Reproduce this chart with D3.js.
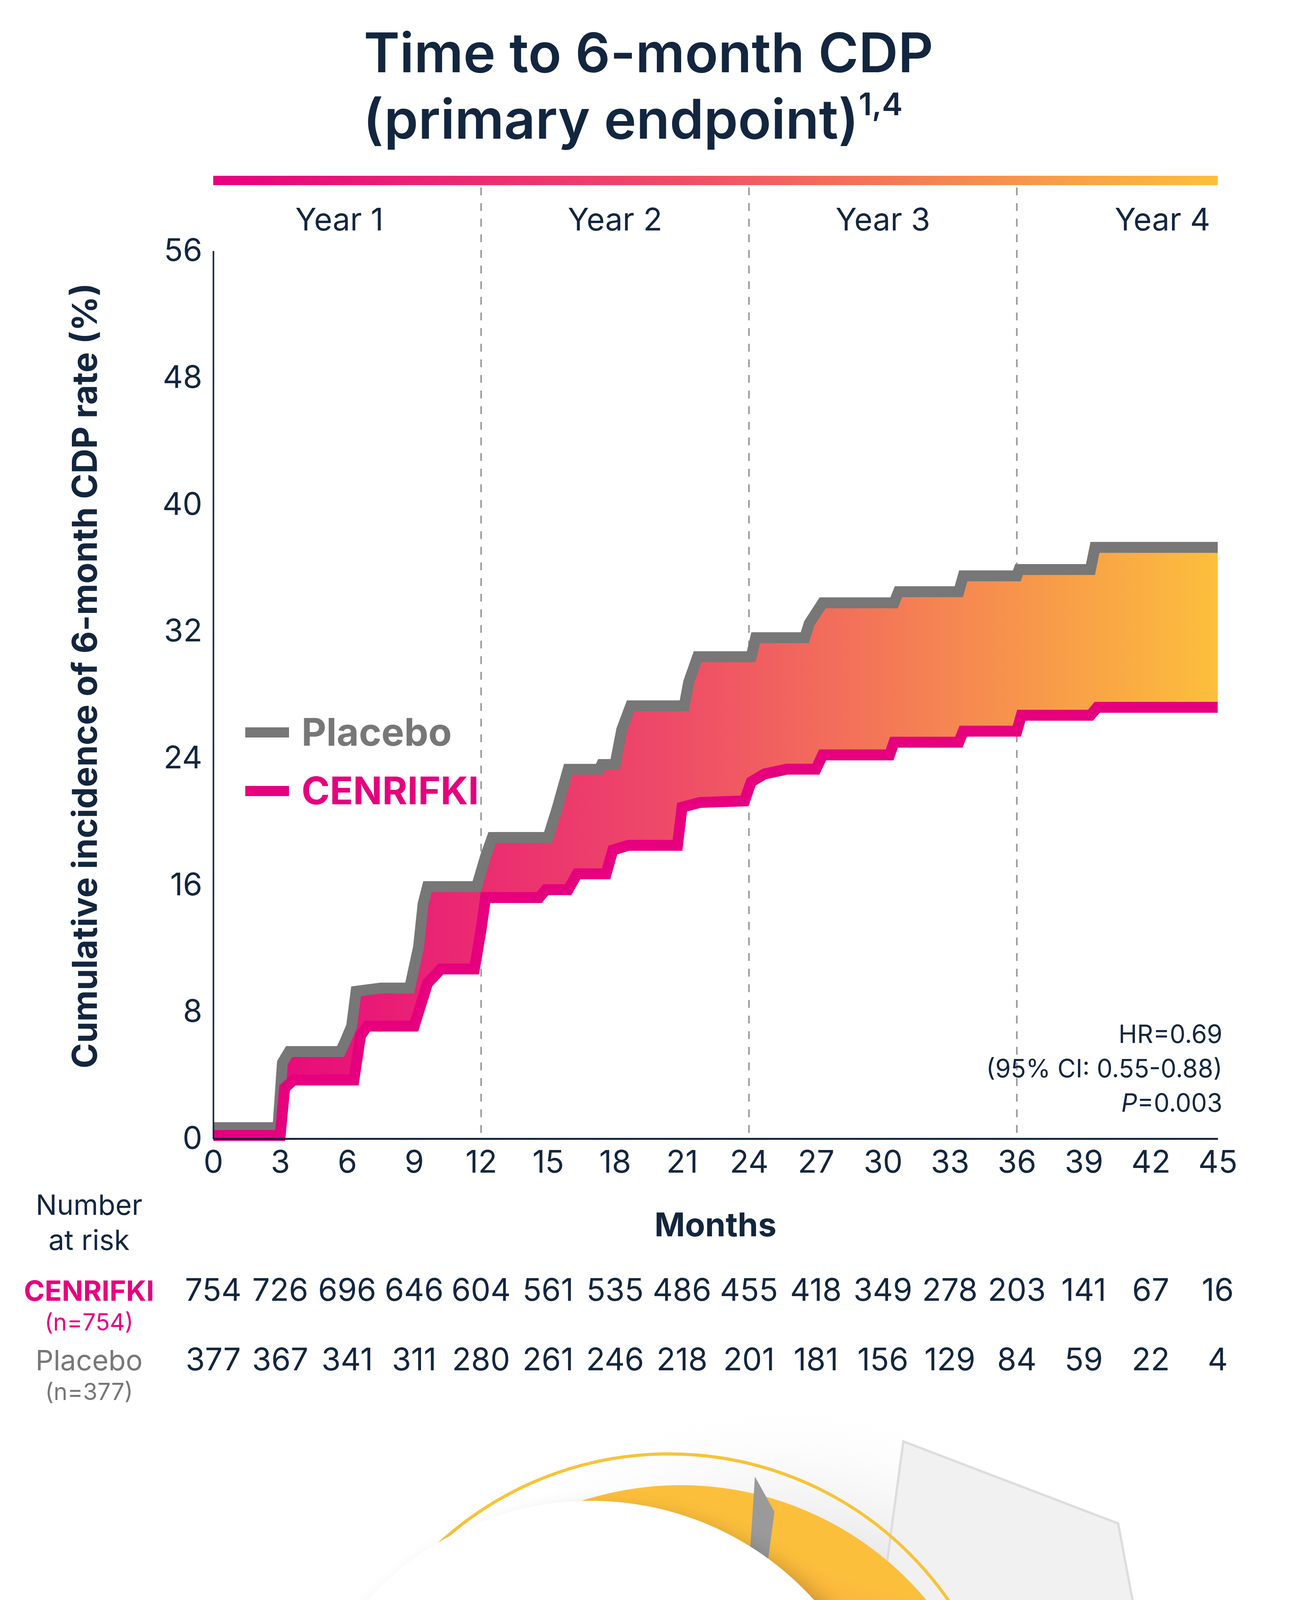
<!DOCTYPE html>
<html><head><meta charset="utf-8">
<script src="https://cdn.jsdelivr.net/npm/d3@7"></script>
<style>body{margin:0;background:#fff}svg{display:block}</style>
</head><body>
<svg id="chart" width="3321" height="5653"></svg>
<script>
const W = 3321, H = 5653;
const navy = '#13263f', pink = '#e6007e', grey = '#777777';

// step data: [month, cumulative %]
const placebo = [[0,0.4],[2.9,0.4],[3.1,4.5],[3.4,5.2],[5.7,5.2],[5.9,5.8],[6.2,6.8],[6.4,9.0],[7.5,9.2],[8.8,9.2],[9.2,11.8],[9.4,14.5],[9.6,15.6],[11.8,15.6],[12.2,17.5],[12.5,18.7],[15.0,18.7],[15.4,20.5],[15.9,23.0],[17.3,23.0],[17.4,23.3],[18.0,23.3],[18.3,25.5],[18.7,27.0],[21.1,27.0],[21.3,28.5],[21.7,30.1],[24.1,30.1],[24.3,31.3],[26.5,31.3],[26.7,32.2],[27.3,33.5],[30.5,33.5],[30.7,34.2],[33.4,34.2],[33.6,35.2],[36.0,35.2],[36.1,35.6],[39.3,35.6],[39.5,37.0],[45,37.0]];
const cenrifki = [[0,0.5],[3.0,0.5],[3.2,3.5],[3.6,4.0],[6.3,4.0],[6.6,6.8],[6.9,7.4],[9.0,7.4],[9.6,10.1],[10.2,11.0],[11.7,11.0],[12.0,13.5],[12.2,15.5],[14.6,15.5],[14.9,16.0],[15.9,16.0],[16.3,17.0],[17.6,17.0],[17.9,18.5],[18.6,18.8],[20.8,18.8],[21.0,21.2],[21.8,21.5],[23.8,21.6],[24.1,22.8],[24.7,23.3],[25.7,23.6],[27.0,23.6],[27.3,24.5],[30.3,24.5],[30.5,25.3],[33.4,25.3],[33.6,26.0],[36.0,26.0],[36.2,27.0],[39.3,27.0],[39.6,27.5],[45,27.5]];

const xTicks = d3.range(0, 46, 3);
const yTicks = d3.range(0, 57, 8);
const yearLabels = ['Year 1', 'Year 2', 'Year 3', 'Year 4'];
const riskCenrifki = [754,726,696,646,604,561,535,486,455,418,349,278,203,141,67,16];
const riskPlacebo = [377,367,341,311,280,261,246,218,201,181,156,129,84,59,22,4];

const svg = d3.select('#chart');
const defs = svg.append('defs');
const font = 'Inter, "Noto Sans", sans-serif';

const grad = defs.append('linearGradient').attr('id', 'g').attr('x1', 0).attr('x2', 1).attr('y1', 0).attr('y2', 0);
grad.append('stop').attr('offset', '0%').attr('stop-color', pink);
grad.append('stop').attr('offset', '45%').attr('stop-color', '#ee4a68');
grad.append('stop').attr('offset', '100%').attr('stop-color', '#fcbf3c');

const x = d3.scaleLinear().domain([0, 45]).range([546, 3118]);
const y = d3.scaleLinear().domain([0, 56]).range([2915, 642]);

// title
const title = svg.append('text').attr('text-anchor', 'middle').attr('font-family', font)
  .attr('font-weight', 600).attr('fill', navy).attr('font-size', 140);
title.append('tspan').attr('x', W / 2).attr('y', 185).text('Time to 6-month CDP');
title.append('tspan').attr('x', W / 2 - 40).attr('y', 355).text('(primary endpoint)');
title.append('tspan').attr('font-size', 80).attr('dy', -60).text('1,4');

// gradient bar
svg.append('rect').attr('x', x(0)).attr('y', 450).attr('width', x(45) - x(0)).attr('height', 24)
  .attr('fill', 'url(#g)');

// year separators & labels
[12, 24, 36].forEach(m => svg.append('line').attr('x1', x(m)).attr('x2', x(m))
  .attr('y1', 480).attr('y2', y(0)).attr('stroke', '#999').attr('stroke-width', 4)
  .attr('stroke-dasharray', '20,20'));
yearLabels.forEach((t, i) => svg.append('text').attr('x', x(i * 12 + 6) - (i == 0 ? 20 : 0) + (i == 3 ? 30 : 0))
  .attr('y', 590).attr('text-anchor', 'middle').attr('font-family', font)
  .attr('font-size', 80).attr('fill', navy).text(t));

// area between the curves
const merged = d3.sort(Array.from(new Set(placebo.map(d => d[0]).concat(cenrifki.map(d => d[0])))));
const interp = (arr, m) => { let v = arr[0][1]; for (let i = 1; i < arr.length; i++) { const a = arr[i - 1], b = arr[i]; if (m >= b[0]) v = b[1]; else if (m > a[0]) { v = a[1] + (b[1] - a[1]) * (m - a[0]) / (b[0] - a[0]); break; } else break; } return v; };
const band = merged.map(m => ({ m, hi: interp(placebo, m), lo: interp(cenrifki, m) }));
svg.append('path').datum(band)
  .attr('d', d3.area().x(d => x(d.m)).y0(d => y(d.lo)).y1(d => y(d.hi)))
  .attr('fill', 'url(#g)');

const line = d3.line().x(d => x(d[0])).y(d => y(d[1]));
svg.append('path').datum(placebo).attr('d', line).attr('fill', 'none').attr('stroke', grey)
  .attr('stroke-width', 28).attr('transform', 'translate(0,-12)');
svg.append('path').datum(cenrifki).attr('d', line).attr('fill', 'none').attr('stroke', pink)
  .attr('stroke-width', 28).attr('transform', 'translate(0,12)');

// axes
const xAxis = svg.append('g').attr('transform', `translate(0,${y(0)})`)
  .call(d3.axisBottom(x).tickValues(xTicks).tickSize(0).tickPadding(30));
xAxis.select('.domain').attr('stroke', navy).attr('stroke-width', 5);
xAxis.selectAll('text').attr('font-family', font).attr('font-size', 80).attr('fill', navy);
const yAxis = svg.append('g').attr('transform', `translate(${x(0)},0)`)
  .call(d3.axisLeft(y).tickValues(yTicks).tickSize(0).tickPadding(28));
yAxis.select('.domain').attr('stroke', navy).attr('stroke-width', 4);
yAxis.selectAll('text').attr('font-family', font).attr('font-size', 80).attr('fill', navy);

svg.append('text').attr('transform', `translate(248,1730) rotate(-90)`).attr('text-anchor', 'middle')
  .attr('font-family', font).attr('font-weight', 700).attr('font-size', 88).attr('fill', navy)
  .text('Cumulative incidence of 6-month CDP rate (%)');

// legend
[['Placebo', grey, 1875], ['CENRIFKI', pink, 2025]].forEach(([t, c, yy]) => {
  svg.append('line').attr('x1', 628).attr('x2', 740).attr('y1', yy).attr('y2', yy)
    .attr('stroke', c).attr('stroke-width', 26);
  svg.append('text').attr('x', 772).attr('y', yy + 34).attr('font-family', font)
    .attr('font-weight', 700).attr('font-size', 98).attr('fill', c).text(t);
});

// HR
const hr = svg.append('text').attr('text-anchor', 'end').attr('font-family', font)
  .attr('font-size', 64).attr('fill', navy);
hr.append('tspan').attr('x', 3130).attr('y', 2670).text('HR=0.69');
hr.append('tspan').attr('x', 3130).attr('y', 2758).text('(95% CI: 0.55-0.88)');
const p = hr.append('tspan').attr('x', 3130).attr('y', 2846);
p.append('tspan').attr('font-style', 'italic').text('P');
p.append('tspan').text('=0.003');

// months / number at risk
svg.append('text').attr('x', x(22.5)).attr('y', 3165).attr('text-anchor', 'middle').attr('font-family', font)
  .attr('font-weight', 700).attr('font-size', 84).attr('fill', navy).text('Months');
const nar = svg.append('text').attr('text-anchor', 'middle').attr('font-family', font)
  .attr('font-size', 72).attr('fill', navy);
nar.append('tspan').attr('x', 228).attr('y', 3110).text('Number');
nar.append('tspan').attr('x', 228).attr('y', 3200).text('at risk');

const rows = [[riskCenrifki, 3330, 'CENRIFKI', '(n=754)', pink, 700], [riskPlacebo, 3508, 'Placebo', '(n=377)', grey, 400]];
rows.forEach(([vals, yy, name, n, c, fw]) => {
  svg.selectAll(null).data(vals).join('text').attr('x', (d, i) => x(xTicks[i])).attr('y', yy)
    .attr('text-anchor', 'middle').attr('font-family', font).attr('font-size', 80).attr('fill', navy)
    .text(d => d);
  svg.append('text').attr('x', 228).attr('y', yy).attr('text-anchor', 'middle').attr('font-family', font)
    .attr('font-weight', fw).attr('font-size', 72).attr('fill', c).text(name);
  svg.append('text').attr('x', 228).attr('y', yy + 76).attr('text-anchor', 'middle').attr('font-family', font)
    .attr('font-size', 60).attr('fill', c).text(n);
});

// bottom badge
const cx = 1513, cy = 4612;
const rg = defs.append('linearGradient').attr('id', 'rg').attr('x1', 0).attr('y1', 1).attr('x2', 0.3).attr('y2', 0);
rg.append('stop').attr('offset', '0%').attr('stop-color', pink);
rg.append('stop').attr('offset', '55%').attr('stop-color', '#f27052');
rg.append('stop').attr('offset', '100%').attr('stop-color', '#fcbf3c');
const sh = defs.append('radialGradient').attr('id', 'sh');
sh.append('stop').attr('offset', '60%').attr('stop-color', '#ddd');
sh.append('stop').attr('offset', '100%').attr('stop-color', '#fff').attr('stop-opacity', 0);
const blur = defs.append('filter').attr('id', 'blur').attr('x', '-20%').attr('y', '-20%').attr('width', '140%').attr('height', '140%');
blur.append('feGaussianBlur').attr('stdDeviation', 30);

svg.append('ellipse').attr('cx', cx + 500).attr('cy', cy + 150).attr('rx', 1100).attr('ry', 1200).attr('fill', 'url(#sh)');
svg.append('path').attr('d', `M${cx+800},3690 L${cx+1350},3900 L${cx+1500},4700 L${cx+1250},5550 L${cx+450},5620 L${cx+650},4800 Z`)
  .attr('fill', '#f1f1f1').attr('stroke', '#ddd').attr('stroke-width', 6);
svg.append('circle').attr('cx', cx + 200).attr('cy', cy - 20).attr('r', 870).attr('fill', 'none')
  .attr('stroke', '#f8c33a').attr('stroke-width', 8);
svg.append('circle').attr('cx', cx + 230).attr('cy', cy + 10).attr('r', 820).attr('fill', 'url(#rg)');
svg.append('path').attr('d', `M${cx+420},3780 L${cx+470},3870 L${cx+360},4700 Z`).attr('fill', '#9a9a9a');
svg.append('path').attr('d', `M${cx+860},4300 L${cx+1100},4150 L${cx+1250},4450 L${cx+1000},4520 Z`).attr('fill', '#fafafa').attr('stroke', '#ccc').attr('stroke-width', 4);
svg.append('circle').attr('cx', cx + 30).attr('cy', cy + 40).attr('r', 780).attr('fill', '#000').attr('opacity', 0.25).attr('filter', 'url(#blur)');
svg.append('circle').attr('cx', cx).attr('cy', cy).attr('r', 770).attr('fill', '#fff');

const big = svg.append('text').attr('x', cx + 30).attr('y', 4560).attr('text-anchor', 'middle')
  .attr('font-family', font).attr('font-weight', 800).attr('fill', pink);
big.append('tspan').attr('font-size', 580).text('31');
big.append('tspan').attr('font-size', 220).attr('dx', 20).text('%');
['RISK REDUCTION', 'IN DISABILITY', 'PROGRESSION'].forEach((t, i) =>
  svg.append('text').attr('x', cx).attr('y', 4775 + i * 158).attr('text-anchor', 'middle')
    .attr('font-family', font).attr('font-weight', 800).attr('font-size', 150).attr('fill', pink)
    .attr('letter-spacing', -4).text(t));
</script>
</body></html>
